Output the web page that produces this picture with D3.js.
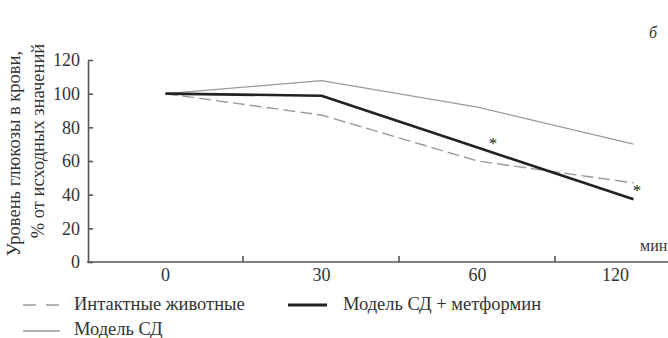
<!DOCTYPE html>
<html><head><meta charset="utf-8">
<script src="https://cdn.jsdelivr.net/npm/d3@7/dist/d3.min.js"></script>
<style>
html,body{margin:0;padding:0;background:#fff;}
svg{display:block;}
</style></head>
<body>
<svg id="chart" width="668" height="338"></svg>
<script>
const categories = ["0", "30", "60", "120"];
const intactValues = [100, 87.3, 60, 47];
const diabetesValues = [100, 107.7, 92, 70];
const metforminValues = [100, 98.8, 68, 37.3];
const yTicks = [0, 20, 40, 60, 80, 100, 120];
const asterisks = [{cat: "60", value: 68}, {cat: "120", value: 37.3}];
const yTitle = ["Уровень глюкозы в крови,", "% от исходных значений"];
const xUnit = "мин";
const panelLabel = "б";
const legendItems = [
  {label: "Интактные животные", key: "intact"},
  {label: "Модель СД + метформин", key: "metformin"},
  {label: "Модель СД", key: "diabetes"}
];

const FONT = '"Liberation Serif", "Times New Roman", serif';
const styles = {
  intact: {stroke: "#999", width: 1.4, dash: "12,5", legendDash: "13,10", legendWidth: 1.4},
  diabetes: {stroke: "#999", width: 1.3, dash: null, legendDash: null, legendWidth: 1.3},
  metformin: {stroke: "#222", width: 2.6, dash: null, legendDash: null, legendWidth: 3}
};

const svg = d3.select("#chart");
const x = d3.scaleBand().domain(categories).range([88, 712]);
const y = d3.scaleLinear().domain([0, 120]).range([262, 60]);
const cx = c => x(c) + x.bandwidth() / 2 - 0.5;
const txt = (sel, size) => sel.style("font-family", FONT).style("font-size", size + "px").style("fill", "#333");

// Y axis
const yAxis = svg.append("g").attr("transform", "translate(88,0)")
  .call(d3.axisLeft(y).tickValues(yTicks).tickSize(-5).tickSizeOuter(0).tickPadding(8));
yAxis.select(".domain").attr("stroke", "#555").attr("stroke-width", 1.6);
yAxis.selectAll(".tick line").attr("stroke", "#555").attr("stroke-width", 1.6);
txt(yAxis.selectAll(".tick text"), 18);

// X axis
const xg = svg.append("g").attr("transform", "translate(0,262)");
xg.append("line").attr("x1", 87).attr("x2", 668).attr("y1", 0).attr("y2", 0)
  .attr("stroke", "#555").attr("stroke-width", 1.6);
xg.selectAll("line.tk").data(categories.slice(1)).enter().append("line").attr("class", "tk")
  .attr("x1", c => x(c) - 1).attr("x2", c => x(c) - 1)
  .attr("y1", 0).attr("y2", -6)
  .attr("stroke", "#555").attr("stroke-width", 1.6);
txt(xg.selectAll("text.lbl").data(categories).enter().append("text").attr("class", "lbl")
  .attr("x", c => cx(c)).attr("dx", (c, i) => i === categories.length - 1 ? -18 : 0)
  .attr("y", 18.5).attr("text-anchor", "middle").text(c => c), 18);
txt(svg.append("text").attr("x", 640).attr("y", 251).text(xUnit), 16);

// Lines
const line = d3.line().x((d, i) => cx(categories[i])).y(d => y(d));
const drawSeries = (vals, st) => svg.append("path").datum(vals)
  .attr("d", line).attr("fill", "none").attr("stroke", st.stroke)
  .attr("stroke-width", st.width).attr("stroke-dasharray", st.dash)
  .attr("stroke-linejoin", "round");
drawSeries(diabetesValues, styles.diabetes);
drawSeries(intactValues, styles.intact);
drawSeries(metforminValues, styles.metformin);

// Asterisks
txt(svg.selectAll("text.ast").data(asterisks).enter().append("text").attr("class", "ast")
  .attr("x", (d, i) => cx(d.cat) + (i === 0 ? 15.5 : 3.5))
  .attr("y", (d, i) => y(d.value) + (i === 0 ? 1 : -3.7))
  .attr("text-anchor", "middle").text("*"), 17).style("fill", "#222");

// Y title
yTitle.forEach((t, i) => {
  txt(svg.append("text").attr("transform", `translate(${i === 0 ? 20 : 44},${i === 0 ? 153.5 : 141}) rotate(-90)`)
    .attr("text-anchor", "middle").text(t), 18.5);
});

// Panel label
txt(svg.append("text").attr("x", 653).attr("y", 38)
  .attr("text-anchor", "middle").text(panelLabel), 16).style("font-style", "italic");

// Legend
const legendPos = [{x: 23, y: 305}, {x: 288, y: 305}, {x: 23, y: 331}];
legendItems.forEach((it, i) => {
  const p = legendPos[i], st = styles[it.key];
  const g = svg.append("g");
  g.append("line").attr("x1", p.x).attr("x2", p.x + 37 + (i === 1 ? 2 : 0)).attr("y1", p.y).attr("y2", p.y)
    .attr("stroke", st.stroke).attr("stroke-width", st.legendWidth)
    .attr("stroke-dasharray", st.legendDash);
  txt(g.append("text").attr("x", p.x + 51 + (i === 1 ? 4 : 0)).attr("y", i === 2 ? 335 : 309.5).text(it.label), 18.5);
});
</script>
</body></html>
